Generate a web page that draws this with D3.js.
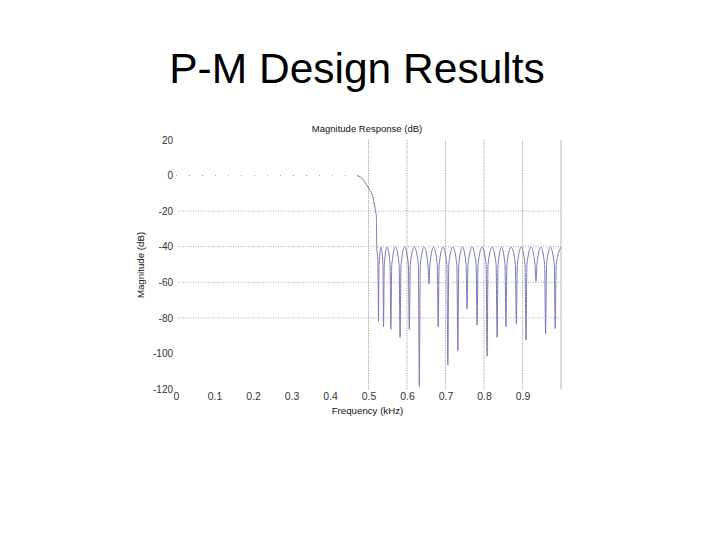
<!DOCTYPE html>
<html><head><meta charset="utf-8">
<script src="https://cdn.jsdelivr.net/npm/d3@7"></script>
<style>body{margin:0;background:#fff;}svg{display:block;}</style>
</head><body>
<svg id="c" width="720" height="540"></svg>
<script>
// ---- data ----
const xTicks = [0, 0.1, 0.2, 0.3, 0.4, 0.5, 0.6, 0.7, 0.8, 0.9];
const yTicks = [20, 0, -20, -40, -60, -80, -100, -120];
const gridYValues = [-20, -40, -60, -80];
const gridXValues = [0.5, 0.6, 0.7, 0.8, 0.9];
// passband (0 dB) section
const passband = [[0, 0], [0.47, 0]];
// transition band
const transition = [[0.47, 0], [0.48, -1], [0.49, -3.5], [0.50, -7], [0.5125, -13],
  [0.5187, -20.6], [0.5205, -23], [0.5215, -40], [0.524, -47], [0.526, -82]];
// stopband: nulls, lobe shoulders and ripple peaks (~ -40 dB)
const stopband = [
  [0.526,-82],
  [0.5275,-50],[0.5325,-40.3],[0.5375,-50],
  [0.539,-85],
  [0.541,-50],[0.5485,-40.3],[0.556,-50],
  [0.558,-86.5],
  [0.5605,-50],[0.570,-40.3],[0.5795,-50],
  [0.582,-91],
  [0.5845,-50],[0.594,-40.3],[0.6035,-50],
  [0.606,-86.5],
  [0.6085,-50],[0.619,-40.3],[0.6295,-50],
  [0.632,-118.5],
  [0.6345,-50],[0.6445,-40.3],[0.6545,-50],
  [0.657,-61],
  [0.6595,-50],[0.669,-40.3],[0.6785,-50],
  [0.681,-85],
  [0.6835,-50],[0.6935,-40.3],[0.7035,-50],
  [0.706,-106.5],
  [0.7085,-50],[0.719,-40.3],[0.7295,-50],
  [0.732,-98.5],
  [0.7345,-50],[0.744,-40.3],[0.7535,-50],
  [0.756,-75],
  [0.7585,-50],[0.769,-40.3],[0.7795,-50],
  [0.782,-84],
  [0.7845,-50],[0.795,-40.3],[0.8055,-50],
  [0.808,-101.5],
  [0.8105,-50],[0.821,-40.3],[0.8315,-50],
  [0.834,-91],
  [0.8365,-50],[0.8455,-40.3],[0.8545,-50],
  [0.857,-85],
  [0.8595,-50],[0.8705,-40.3],[0.8815,-50],
  [0.884,-83.5],
  [0.8865,-50],[0.8965,-40.3],[0.9065,-50],
  [0.909,-92.5],
  [0.9115,-50],[0.922,-40.3],[0.9325,-50],
  [0.935,-59.5],
  [0.9375,-50],[0.9475,-40.3],[0.9575,-50],
  [0.960,-89],
  [0.9625,-50],[0.9725,-40.3],[0.9825,-50],
  [0.985,-86],
  [0.9875,-50],[1.0,-40.3]
];

// ---- drawing ----
const svg = d3.select("#c");
const font = "Liberation Sans, Arial, sans-serif";
const x = d3.scaleLinear().domain([0, 1]).range([176, 561]);
const y = d3.scaleLinear().domain([-120, 20]).range([389, 140]);

svg.append("text").attr("x", 357).attr("y", 83).attr("text-anchor", "middle")
  .attr("font-family", font).attr("font-size", 42.5).attr("fill", "#000")
  .text("P-M Design Results");

// grid
const g = svg.append("g");
g.selectAll(".gy").data(gridYValues).enter().append("line")
  .attr("x1", x(0) + 2).attr("x2", x(1)).attr("y1", d => y(d)).attr("y2", d => y(d))
  .attr("stroke", "#a8a8a8").attr("stroke-width", 1).attr("stroke-dasharray", "1,1.5");
g.selectAll(".gx").data(gridXValues).enter().append("line")
  .attr("y1", y(20)).attr("y2", y(-120)).attr("x1", d => x(d)).attr("x2", d => x(d))
  .attr("stroke", "#b0b0b0").attr("stroke-width", 1).attr("stroke-dasharray", "1.5,1");
g.append("line").attr("x1", x(1)).attr("x2", x(1)).attr("y1", y(20)).attr("y2", y(-120))
  .attr("stroke", "#b8b8b8").attr("stroke-width", 1);

// axes via d3 axis generators (labels only)
const xAxis = d3.axisBottom(x).tickValues(xTicks).tickSize(0).tickPadding(0)
  .tickFormat(d => d === 0 ? "0" : d.toFixed(1));
const xa = svg.append("g").attr("transform", `translate(0,${393})`).call(xAxis);
xa.select(".domain").remove();
xa.selectAll("text").attr("font-family", font).attr("font-size", 10.5).attr("fill", "#333").attr("dy", "0.71em");

const yAxis = d3.axisLeft(y).tickValues(yTicks).tickSize(0).tickPadding(0).tickFormat(d => String(d));
const ya = svg.append("g").attr("transform", `translate(${173},0)`).call(yAxis);
ya.select(".domain").remove();
ya.selectAll("text").attr("font-family", font).attr("font-size", 10).attr("fill", "#333");

// labels
svg.append("text").attr("x", 367).attr("y", 132).attr("text-anchor", "middle")
  .attr("font-family", font).attr("font-size", 9.5).attr("fill", "#111").text("Magnitude Response (dB)");
svg.append("text").attr("x", 367.5).attr("y", 414).attr("text-anchor", "middle")
  .attr("font-family", font).attr("font-size", 9.7).attr("fill", "#111").text("Frequency (kHz)");
svg.append("text").attr("transform", "translate(144,265) rotate(-90)").attr("text-anchor", "middle")
  .attr("font-family", font).attr("font-size", 9.7).attr("fill", "#111").text("Magnitude (dB)");

// response curve
const line = d3.line().x(d => x(d[0])).y(d => y(d[1]));
svg.append("path").datum(passband).attr("d", line).attr("fill", "none")
  .attr("stroke", "#9a9a9a").attr("stroke-width", 1).attr("stroke-dasharray", "1,12");
svg.append("path").datum(transition).attr("d", line.curve(d3.curveMonotoneX)).attr("fill", "none")
  .attr("stroke", "#7a7aa8").attr("stroke-width", 1);
svg.append("path").datum(stopband).attr("d", line.curve(d3.curveMonotoneX)).attr("fill", "none")
  .attr("stroke", "#7b7bbb").attr("stroke-width", 1);
</script>
</body></html>
